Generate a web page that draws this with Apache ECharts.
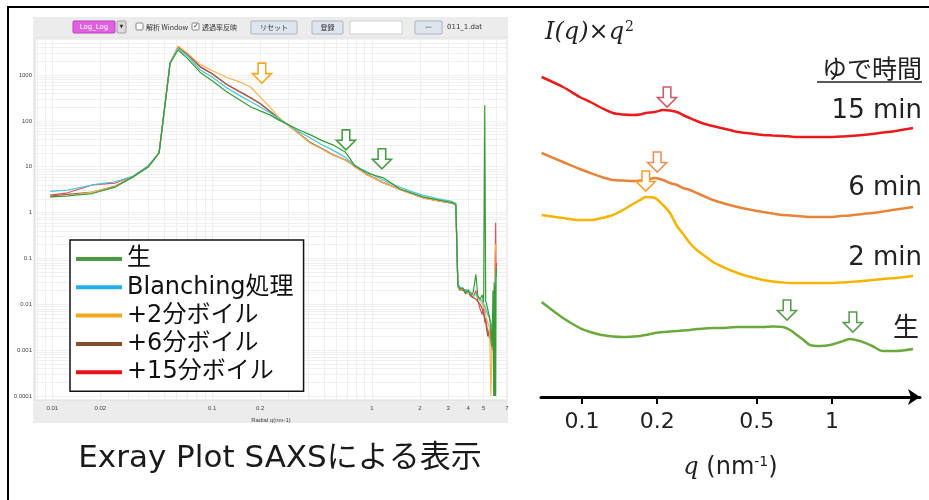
<!DOCTYPE html>
<html><head><meta charset="utf-8">
<script src="https://cdn.jsdelivr.net/npm/echarts@6/dist/echarts.min.js"></script>
<style>html,body{margin:0;padding:0;background:#fff}#c{width:929px;height:500px}</style>
</head><body><div id="c"></div>
<script>
// ---------- Left panel (log-log SAXS) ----------
const qLeft = [0.0097, 0.0125, 0.0178, 0.0248, 0.032, 0.04, 0.0466, 0.0546, 0.0613, 0.07, 0.084, 0.1, 0.124, 0.15, 0.175, 0.2, 0.23, 0.26, 0.297, 0.35, 0.41, 0.48, 0.57, 0.68, 0.73, 0.78, 0.85, 0.93, 1.05, 1.17, 1.3, 1.49, 1.75, 2.08, 2.6, 3.17, 3.35];
const greenMain  = [2.2, 2.3, 2.6, 3.6, 6, 10, 20, 1800, 3500, 2300, 1150, 750, 425, 280, 200, 165, 135, 105, 84, 63, 50, 38, 30, 21, 15, 10.5, 8.8, 7.4, 6.4, 5.8, 4.6, 3.3, 2.7, 2.2, 1.9, 1.65, 1.5];
const cyanMain   = [2.9, 3.1, 4.0, 4.7, 6.2, 10.5, 20, 1850, 3800, 2600, 1300, 900, 520, 350, 260, 200, 150, 112, 84, 58, 43, 31, 23, 16, 13, 11, 9.0, 7.8, 6.3, 5.2, 4.3, 3.6, 2.9, 2.4, 2.0, 1.75, 1.6];
const orangeMain = [2.2, 2.3, 2.8, 3.7, 6, 10, 20, 1850, 4300, 3000, 1700, 1250, 880, 700, 540, 330, 200, 122, 82, 52, 33, 25, 18, 14, 12, 10, 8.3, 6.7, 5.5, 4.5, 3.9, 3.2, 2.6, 2.1, 1.8, 1.6, 1.45];
const brownMain  = [2.3, 2.5, 2.8, 3.8, 6, 10, 20, 1800, 4000, 2800, 1500, 1050, 620, 430, 320, 240, 165, 115, 82, 53, 34, 25.5, 18.5, 14.2, 12.2, 10.2, 8.4, 6.8, 5.6, 4.6, 3.95, 3.25, 2.65, 2.15, 1.82, 1.62, 1.47];
const redMain    = [2.4, 2.7, 4.0, 4.4, 6.2, 10.5, 20, 1800, 4200, 2900, 1550, 1080, 610, 420, 310, 235, 160, 112, 82, 52, 33.5, 25, 18, 14, 12, 10, 8.3, 6.7, 5.5, 4.5, 3.9, 3.2, 2.6, 2.1, 1.8, 1.6, 1.45];

const qTail = [3.45, 3.55, 3.7, 3.85, 4.0, 4.15, 4.3, 4.47, 4.6, 4.75, 4.9, 5.0, 5.08, 5.15, 5.3, 5.45, 5.55, 5.65, 5.72, 5.78, 5.82, 5.86, 5.9, 5.94, 5.98, 6.02];
const greenTail  = [0.025, 0.021, 0.023, 0.018, 0.02, 0.016, 0.018, 0.045, 0.015, 0.013, 0.016, 0.011, 220, 0.012, 0.008, 0.005, 0.003, 0.0012, 0.02, 0.0001, 0.03, 0.0001, 0.025, 0.0001, 0.04, 0.06];
const orangeTail = [0.024, 0.02, 0.022, 0.019, 0.017, 0.019, 0.015, 0.016, 0.014, 0.012, 0.01, 0.008, 0.01, 0.006, 0.004, 0.003, 0.0001, 0.0015, 0.002, 0.01, 0.005, 0.05, 0.15, 0.2, 0.16, 0.2];
const redTail    = [0.026, 0.022, 0.02, 0.021, 0.018, 0.016, 0.014, 0.02, 0.012, 0.008, 0.006, 0.009, 0.004, 0.005, 0.0025, 0.0018, 0.003, 0.002, 0.0012, 0.004, 0.01, 0.02, 0.03, 0.6, 0.04, 0.08];
const brownTail  = [0.025, 0.02, 0.021, 0.017, 0.019, 0.015, 0.014, 0.013, 0.012, 0.01, 0.008, 0.006, 0.005, 0.004, 0.002, 0.003, 0.0015, 0.001, 0.002, 0.004, 0.01, 0.02, 0.03, 0.05, 0.04, 0.06];
const cyanTail   = [0.028, 0.024, 0.022, 0.02, 0.021, 0.018, 0.016, 0.017, 0.015, 0.013, 0.012, 0.01, 0.009, 0.008, 0.006, 0.005, 0.004, 0.003, 0.004, 0.008, 0.015, 0.02, 0.03, 0.04, 0.05, 0.06];

const legendNames  = ['生', 'Blanching処理', '+2分ボイル', '+6分ボイル', '+15分ボイル'];
const legendColors = ['#4a9a44', '#22b0e8', '#f5a81c', '#8b4a2b', '#e8101a'];
const lineColors   = ['#3a9a36', '#46c4d8', '#f6b652', '#94644a', '#e4505e'];

const leftXLabels = [0.01, 0.02, 0.1, 0.2, 1, 2, 3, 4, 5, 7];
const leftXTicks  = [0.008, 0.009, 0.01, 0.02, 0.03, 0.04, 0.05, 0.06, 0.07, 0.08, 0.09, 0.1, 0.2, 0.3, 0.4, 0.5, 0.6, 0.7, 0.8, 0.9, 1, 2, 3, 4, 5, 6, 7];
const leftYLabels = [0.0001, 0.001, 0.01, 0.1, 1, 10, 100, 1000];
const leftYTicks = [];
for (let k = -4; k <= 3; k++) for (let m = 1; m <= 9; m++) { const v = +(m * Math.pow(10, k)).toPrecision(2); if (v <= 6400) leftYTicks.push(v); }

// ---------- Right panel (offset curves, I(q)·q²) ----------
const qRight = [0.069, 0.084, 0.098, 0.108, 0.12, 0.133, 0.146, 0.16, 0.171, 0.18, 0.196, 0.211, 0.225, 0.24, 0.254, 0.27, 0.288, 0.31, 0.334, 0.36, 0.39, 0.42, 0.457, 0.49, 0.53, 0.58, 0.637, 0.68, 0.724, 0.77, 0.817, 0.9, 0.982, 1.08, 1.18, 1.33, 1.45, 1.6, 1.8, 2.11];
const red15   = [320, 310, 300, 295, 289, 284, 282.5, 282, 282.5, 284, 285, 287, 286.5, 285, 282, 279, 276, 273, 271, 269, 267, 265, 264, 263, 262, 261.5, 261, 260.5, 260, 260, 260, 260, 260, 260.5, 261, 262, 263, 264.5, 266, 269];
const orange6 = [244, 235, 228, 224, 220, 217, 216.5, 216, 216.5, 217, 219, 217, 214, 212, 209, 207, 204, 200.5, 197, 194.5, 192, 190, 188, 186.5, 185, 183.5, 182, 181.5, 181, 180.5, 180, 180, 180, 181, 181.5, 183, 184, 185.5, 187.5, 190];
const yellow2 = [182, 179, 177, 177, 179, 182, 187, 193, 197, 200, 199, 192, 184, 171, 163, 154, 147, 141, 135, 131, 127, 124, 121, 119, 117, 115.5, 114.5, 114, 114, 114, 114, 114, 114, 114.5, 115, 116, 117, 118, 119, 121];
const green0  = [95, 79, 69, 65, 62, 60.5, 60, 60.5, 61, 62, 64, 65, 65.5, 66, 66.5, 67, 68, 68.5, 69, 69, 69.5, 70, 70, 70, 70, 70.5, 70, 67, 62, 57, 52, 51, 52, 55, 58, 55, 51, 46, 46, 48];
const rightTicks = [0.1, 0.2, 0.5, 1];

const FONT = "'DejaVu Sans','Noto Sans CJK JP',sans-serif";
const JP = "'Noto Sans CJK JP',sans-serif";
const arrowPath = 'path://M6,0L14,0L14,11L20,11L10,21L0,11L6,11Z';
function pairs(q, v) { return q.map((x, i) => [x, v[i]]); }
function arrow(coord, color) {
  return { coord: coord, symbol: arrowPath, symbolSize: [19, 20],
           itemStyle: { color: '#fff', borderColor: color, borderWidth: 1.6 } };
}
function mp(list) { return { data: list, label: { show: false }, animation: false, silent: true }; }

const chart = echarts.init(document.getElementById('c'));

function leftSeries(idx, main, tail, marks) {
  const s = {
    name: legendNames[idx], type: 'line', xAxisIndex: 0, yAxisIndex: 0,
    data: pairs(qLeft.concat(qTail), main.concat(tail)),
    symbol: 'none', showSymbol: false,
    lineStyle: { width: 1.2, color: lineColors[idx] },
    itemStyle: { color: legendColors[idx] }, emphasis: { disabled: true }
  };
  if (marks) s.markPoint = mp(marks);
  return s;
}
function rightSeries(name, vals, color, marks) {
  return { name: name, type: 'line', xAxisIndex: 1, yAxisIndex: 1, data: pairs(qRight, vals),
           symbol: 'none', smooth: 0.3, lineStyle: { width: 2.5, color: color }, itemStyle: { color: color },
           emphasis: { disabled: true }, markPoint: mp(marks) };
}

function txt(x, y, text, size, opts) {
  return Object.assign({ type: 'text', x: x, y: y, z: 50,
    style: Object.assign({ text: text, fontSize: size, fontFamily: FONT, fill: '#222',
      align: 'left', verticalAlign: 'middle', textAlign: 'left', textVerticalAlign: 'middle' }, opts || {}) });
}
function rect(x, y, w, h, fill, stroke, z) {
  return { type: 'rect', z: z === undefined ? 40 : z, shape: { x: x, y: y, width: w, height: h, r: 1 },
           style: { fill: fill, stroke: stroke || null, lineWidth: 1 } };
}

const graphics = [
  // frame
  { type: 'line', z: 60, shape: { x1: 8, y1: 7, x2: 929, y2: 7 }, style: { stroke: '#000', lineWidth: 2 } },
  { type: 'line', z: 60, shape: { x1: 8, y1: 6, x2: 8, y2: 500 }, style: { stroke: '#000', lineWidth: 2 } },
  // grey application panel
  { type: 'rect', z: -100, shape: { x: 33, y: 17, width: 475, height: 406 }, style: { fill: '#ececec' } },
  // toolbar
  rect(73, 21, 42, 12, '#e060e0', '#c040c0'),
  txt(94, 27, 'Log_Log', 7, { fill: '#fff', align: 'center', textAlign: 'center' }),
  rect(117, 21, 9, 12, '#dcdcdc', '#a0a0a0'),
  txt(121.5, 27, '▼', 5, { fill: '#333', align: 'center', textAlign: 'center' }),
  rect(136, 23, 7, 7, '#fff', '#888'),
  txt(146, 27, '解析 Window', 7, { fill: '#333', fontFamily: JP }),
  rect(192, 23, 7, 7, '#fff', '#888'),
  txt(193, 26.5, '✓', 7, { fill: '#333' }),
  txt(202, 27, '透過率反映', 7, { fill: '#333', fontFamily: JP }),
  rect(251, 21, 46, 13, '#dfe5ee', '#aab3c0'),
  txt(274, 27.5, 'リセット', 7, { fill: '#333', fontFamily: JP, align: 'center', textAlign: 'center' }),
  rect(312, 21, 31, 13, '#dfe5ee', '#aab3c0'),
  txt(327.5, 27.5, '登録', 7, { fill: '#333', fontFamily: JP, align: 'center', textAlign: 'center' }),
  rect(350, 21, 52, 13, '#fff', '#cfcfcf'),
  rect(415, 21, 27, 13, '#dfe5ee', '#aab3c0'),
  txt(428.5, 27, '—', 7, { fill: '#333', align: 'center', textAlign: 'center' }),
  txt(447, 27.5, '011_1.dat', 7, { fill: '#333' }),
  // left caption
  txt(280, 459, 'Exray Plot SAXSによる表示', 31, { fill: '#1a1a1a', align: 'center', textAlign: 'center' }),
  // right panel texts
  { type: 'text', x: 545, y: 33, z: 50, style: {
      text: '{i|I(q)}×{i|q}{s|2}', fill: '#222', fontSize: 24, fontFamily: "'DejaVu Serif',serif",
      align: 'left', verticalAlign: 'middle', textAlign: 'left', textVerticalAlign: 'middle',
      rich: { i: { fontStyle: 'italic', fontSize: 24, fontFamily: "'DejaVu Serif',serif", fill: '#222' },
              s: { fontSize: 14, fontFamily: "'DejaVu Serif',serif", fill: '#222', verticalAlign: 'top', padding: [0, 0, 11, 1] } } } },
  txt(922, 68, 'ゆで時間', 25, { fontFamily: JP, align: 'right', textAlign: 'right' }),
  { type: 'line', z: 50, shape: { x1: 817, y1: 82, x2: 922, y2: 82 }, style: { stroke: '#222', lineWidth: 1.5 } },
  txt(922, 111, '15 min', 26, { align: 'right', textAlign: 'right' }),
  txt(922, 188, '6 min', 26, { align: 'right', textAlign: 'right' }),
  txt(922, 258, '2 min', 26, { align: 'right', textAlign: 'right' }),
  txt(919, 326, '生', 26, { fontFamily: JP, align: 'right', textAlign: 'right' })
];

chart.setOption({
  animation: false,
  backgroundColor: '#fff',
  legend: {
    orient: 'vertical', left: 70, top: 240, padding: [7, 10, 7, 6], itemGap: 4.3,
    itemWidth: 46, itemHeight: 4, icon: 'rect', selectedMode: false,
    backgroundColor: '#fff', borderColor: '#111', borderWidth: 1.5, borderRadius: 0,
    textStyle: { fontSize: 24, fontFamily: FONT, color: '#111', lineHeight: 24 },
    data: legendNames.map((n, i) => ({ name: n, itemStyle: { color: legendColors[i] } }))
  },
  grid: [
    { left: 35, top: 38, width: 472, height: 362, show: true, backgroundColor: '#fff', borderColor: '#dcdcdc', borderWidth: 1 },
    { left: 541, top: 41, width: 379, height: 356, show: false }
  ],
  xAxis: [
    { type: 'log', gridIndex: 0, min: 0.0078, max: 7,
      axisLine: { show: false }, axisTick: { show: false, customValues: leftXTicks },
      axisLabel: { customValues: leftXLabels, fontSize: 6, color: '#444', margin: 5, formatter: v => String(v) },
      splitLine: { show: true, lineStyle: { color: '#efefef', width: 1 } },
      name: 'Radial q(nm-1)', nameLocation: 'middle', nameGap: 17, nameTextStyle: { fontSize: 6, color: '#444' } },
    { type: 'log', gridIndex: 1, min: 0.0686, max: 2.25,
      axisLine: { show: true, onZero: false, lineStyle: { color: '#000', width: 3 }, symbol: ['none', 'arrow'], symbolSize: [12, 12] },
      axisTick: { show: true, customValues: rightTicks, length: 7, lineStyle: { color: '#000', width: 2 } },
      axisLabel: { customValues: rightTicks, fontSize: 22, color: '#222', margin: 14, fontFamily: FONT, formatter: v => String(v) },
      splitLine: { show: false },
      name: '{i|q} (nm{s|-1})', nameLocation: 'middle', nameGap: 58,
      nameTextStyle: { fontSize: 24, color: '#222', fontFamily: FONT,
        rich: { i: { fontStyle: 'italic', fontSize: 24, color: '#222', fontFamily: "'DejaVu Serif',serif" },
                s: { fontSize: 14, color: '#222', fontFamily: FONT, verticalAlign: 'top', padding: [0, 0, 11, 0] } } } }
  ],
  yAxis: [
    { type: 'log', gridIndex: 0, min: 8.2e-5, max: 6400,
      axisLine: { show: false }, axisTick: { show: false, customValues: leftYTicks },
      axisLabel: { customValues: leftYLabels, fontSize: 6, color: '#444', margin: 3, formatter: v => String(v) },
      splitLine: { show: true, lineStyle: { color: '#f0f0f0', width: 1 } } },
    { type: 'value', gridIndex: 1, min: 0, max: 356, show: false, splitLine: { show: false } }
  ],
  series: [
    leftSeries(4, redMain, redTail),
    leftSeries(3, brownMain, brownTail),
    leftSeries(2, orangeMain, orangeTail, [arrow([0.205, 1100], '#f5a623')]),
    leftSeries(1, cyanMain, cyanTail),
    leftSeries(0, greenMain, greenTail, [arrow([0.688, 38.6], '#4a9a44'), arrow([1.155, 14.9], '#4a9a44')]),
    rightSeries('r15', red15, '#e81c1c', [arrow([0.219, 300], '#d05a6a')]),
    rightSeries('r6', orange6, '#e8843a', [arrow([0.2, 235], '#e8905a')]),
    rightSeries('r2', yellow2, '#f5b400', [arrow([0.18, 216], '#f0a030')]),
    rightSeries('r0', green0, '#6aaa3c', [arrow([0.661, 87], '#5a9a50'), arrow([1.213, 75], '#5a9a50')])
  ],
  graphic: graphics
});
</script></body></html>
